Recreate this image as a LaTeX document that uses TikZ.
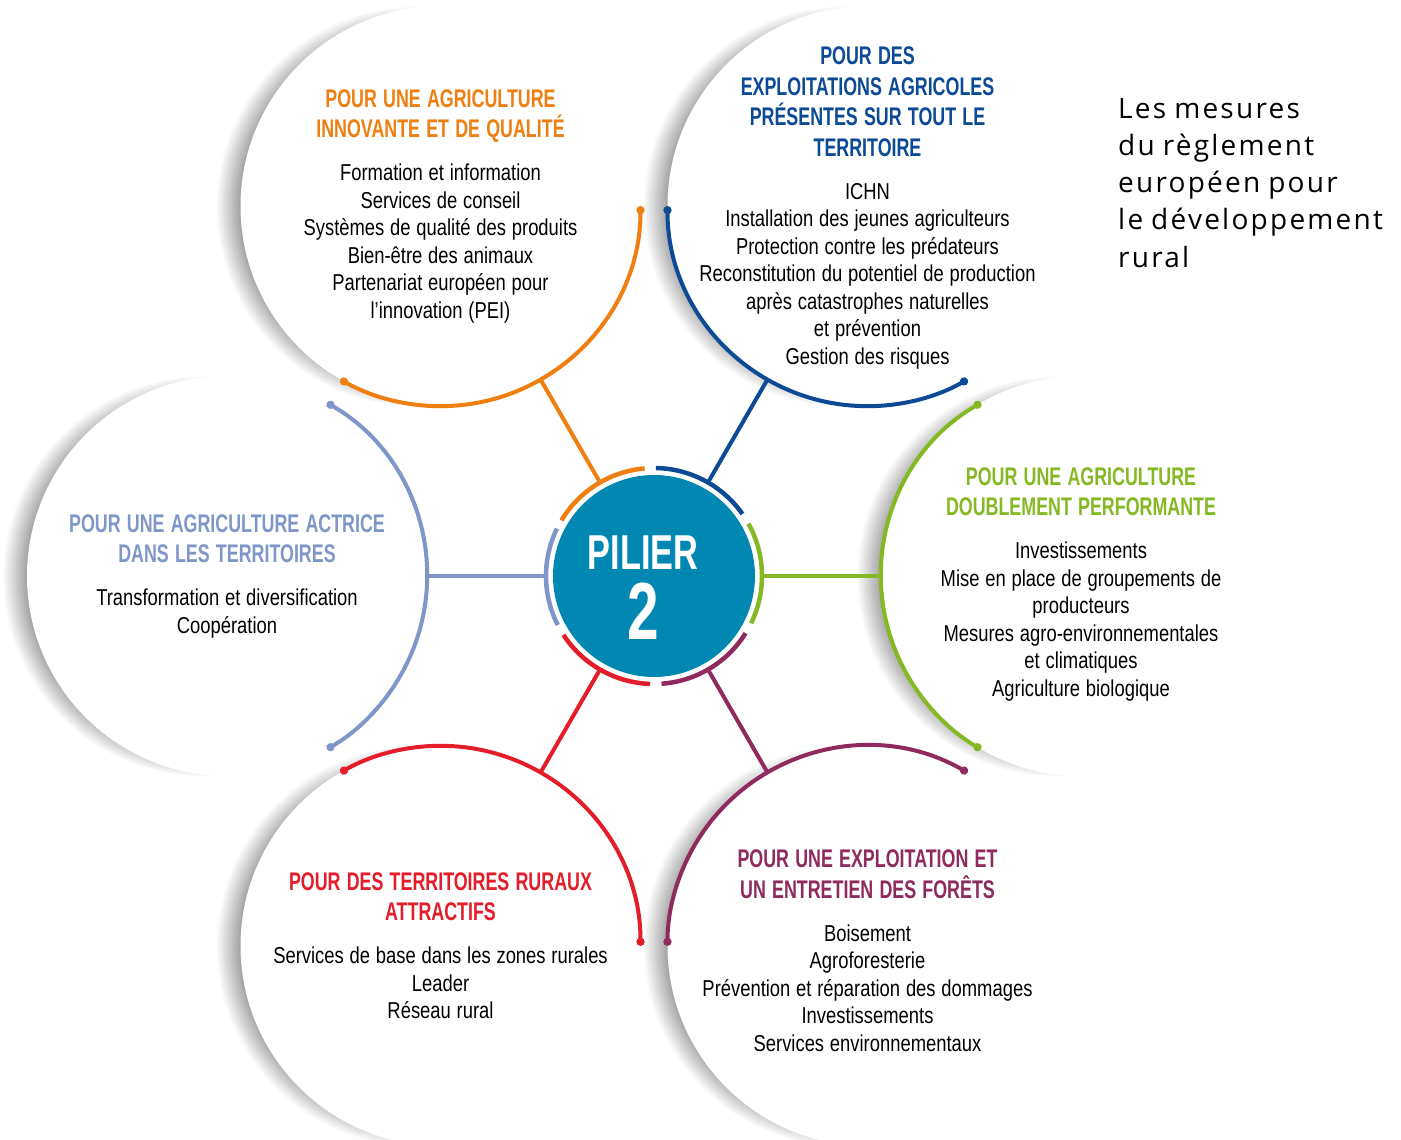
\documentclass[tikz,border=0pt]{standalone}
\usepackage{fontspec}
\setmainfont{Liberation Sans}
\newfontfamily\headfam{Liberation Sans}[FakeStretch=0.7]
\newfontfamily\bodyfam{Liberation Sans}[FakeStretch=0.8]
\newfontfamily\introfam{Open Sans}[LetterSpace=8]
\usetikzlibrary{shadows,arrows.meta}

\definecolor{cqual}{HTML}{EE7F10}
\definecolor{cexpl}{HTML}{0C4A96}
\definecolor{cperf}{HTML}{84B923}
\definecolor{cfor}{HTML}{8E2A5E}
\definecolor{cterr}{HTML}{E31D2A}
\definecolor{cact}{HTML}{7E96C8}
\definecolor{cpil}{HTML}{0088B3}

\newcommand{\headsize}{\headfam\bfseries\fontsize{25.5}{30.5}\selectfont\spaceskip=6.2pt}
\newcommand{\bodysize}{\bodyfam\fontsize{23}{27.5}\selectfont\spaceskip=5.8pt}
\newcommand{\satext}[3]{{\headsize\color{#1}#2\par}\vspace{15.5pt}{\bodysize #3\par}}

\begin{document}
\begin{tikzpicture}[x=1pt, y=1pt,
    disc/.style = {circle, fill=white, minimum size=400pt,
        inner sep=0pt, outer sep=0pt,
        circular drop shadow={shadow xshift=-24pt, shadow yshift=0pt,
            shadow scale=1, opacity=0.45, fill=black}},
    hub/.style = {circle, fill=cpil, minimum size=202pt,
        inner sep=0pt, outer sep=9pt},
    txt/.style = {text width=390pt, align=center, inner sep=0pt},
    link/.style = {line width=4pt},
    rim/.style = {line width=4pt, {Circle[length=8pt]}-{Circle[length=8pt]}},
    ring/.style = {line width=4.5pt}]
    \fill[white] (0, 0) rectangle (1401, 1140);
    \useasboundingbox (0, 0) rectangle (1401, 1140);
    % the six measures around the pillar
    \node[disc] (qual) at (440.5, 933.8) {};
    \node[disc] (expl) at (867.5, 933.8) {};
    \node[disc] (perf) at (1081, 564) {};
    \node[disc] (for) at (867.5, 194.2) {};
    \node[disc] (terr) at (440.5, 194.2) {};
    \node[disc] (act) at (227, 564) {};
    \node[hub] (pilier) at (654, 564) {};
    \node[txt, text width=200pt, text=white] (piliertext) at (643, 552.5)
        {\headfam\bfseries\fontsize{49}{50}\selectfont PILIER\par
         \fontsize{81}{70}\selectfont 2\par};
    \node[txt] (qualtext) at (qual) {\satext{cqual}
        {POUR UNE AGRICULTURE\\INNOVANTE ET DE QUALITÉ}
        {Formation et information\\Services de conseil\\Systèmes de qualité des produits\\Bien-être des animaux\\Partenariat européen pour\\l’innovation (PEI)}};
    \node[txt] (expltext) at ([yshift=-2pt]expl) {\satext{cexpl}
        {POUR DES\\EXPLOITATIONS AGRICOLES\\PRÉSENTES SUR TOUT LE\\TERRITOIRE}
        {ICHN\\Installation des jeunes agriculteurs\\Protection contre les prédateurs\\Reconstitution du potentiel de production\\après catastrophes naturelles\\et prévention\\Gestion des risques}};
    \node[txt] (perftext) at ([yshift=-8pt]perf) {\satext{cperf}
        {POUR UNE AGRICULTURE\\DOUBLEMENT PERFORMANTE}
        {Investissements\\Mise en place de groupements de\\producteurs\\Mesures agro-environnementales\\et climatiques\\Agriculture biologique}};
    \node[txt] (fortext) at ([yshift=-5pt]for) {\satext{cfor}
        {POUR UNE EXPLOITATION ET\\UN ENTRETIEN DES FORÊTS}
        {Boisement\\Agroforesterie\\Prévention et réparation des dommages\\Investissements\\Services environnementaux}};
    \node[txt] (terrtext) at (terr) {\satext{cterr}
        {POUR DES TERRITOIRES RURAUX\\ATTRACTIFS}
        {Services de base dans les zones rurales\\Leader\\Réseau rural}};
    \node[txt] (acttext) at (act) {\satext{cact}
        {POUR UNE AGRICULTURE ACTRICE\\DANS LES TERRITOIRES}
        {Transformation et diversification\\Coopération}};
    \node[anchor=north west, inner sep=0pt, text width=280pt, align=left] (intro) at (1118, 1042)
        {\introfam\fontsize{28}{37.25}\selectfont\spaceskip=8pt Les mesures\\du règlement\\européen pour\\le développement\\rural\par};
    % ring round the pillar
    \draw[ring, cqual] ([shift={(95:108)}]pilier.center) arc[start angle=95, end angle=149, radius=108];
    \draw[ring, cexpl] ([shift={(35:108)}]pilier.center) arc[start angle=35, end angle=89, radius=108];
    \draw[ring, cperf] ([shift={(-26:108)}]pilier.center) arc[start angle=-26, end angle=29, radius=108];
    \draw[ring, cfor] ([shift={(-86:108)}]pilier.center) arc[start angle=-86, end angle=-32, radius=108];
    \draw[ring, cterr] ([shift={(-147:108)}]pilier.center) arc[start angle=-147, end angle=-92, radius=108];
    \draw[ring, cact] ([shift={(154:108)}]pilier.center) arc[start angle=154, end angle=207, radius=108];
    \path[link]
        (pilier.120) edge[cqual] (qual.-60)
        (pilier.60) edge[cexpl] (expl.-120)
        (pilier.0) edge[cperf] (perf.180)
        (pilier.-60) edge[cfor] (for.120)
        (pilier.-120) edge[cterr] (terr.60)
        (pilier.180) edge[cact] (act.0);
    \draw[rim, cqual] (qual.0) arc[start angle=0, end angle=-120, radius=200];
    \draw[rim, cexpl] (expl.180) arc[start angle=180, end angle=300, radius=200];
    \draw[rim, cperf] (perf.120) arc[start angle=120, end angle=240, radius=200];
    \draw[rim, cfor] (for.60) arc[start angle=60, end angle=180, radius=200];
    \draw[rim, cterr] (terr.0) arc[start angle=0, end angle=120, radius=200];
    \draw[rim, cact] (act.60) arc[start angle=60, end angle=-60, radius=200];
\end{tikzpicture}
\end{document}
